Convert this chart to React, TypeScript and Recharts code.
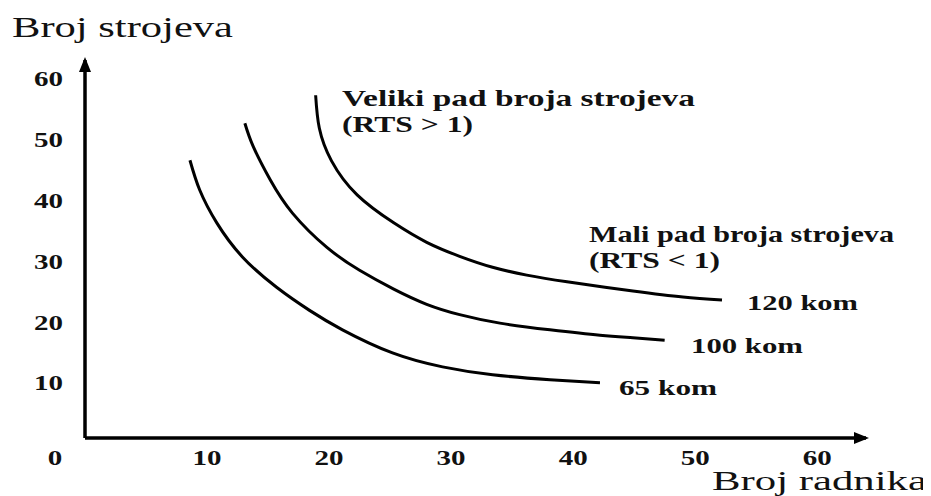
import React from 'react';
import { LineChart, Line, XAxis, YAxis } from 'recharts';

// Isoquant curves (x = Broj radnika, y = Broj strojeva)
const curve65 = [
  { x: 8.6, y: 46.7 }, { x: 9.4, y: 41.8 }, { x: 10.8, y: 36.4 }, { x: 12.9, y: 30.8 },
  { x: 15.7, y: 25.8 }, { x: 18.4, y: 22.0 }, { x: 21.1, y: 18.8 }, { x: 25.2, y: 15.0 },
  { x: 29.3, y: 12.7 }, { x: 33.4, y: 11.4 }, { x: 38.1, y: 10.6 }, { x: 42.2, y: 10.1 },
];
const curve100 = [
  { x: 13.1, y: 52.8 }, { x: 13.8, y: 48.9 }, { x: 15.2, y: 43.4 }, { x: 17.0, y: 38.0 },
  { x: 19.8, y: 32.4 }, { x: 22.5, y: 28.6 }, { x: 25.3, y: 25.5 }, { x: 28.0, y: 23.0 },
  { x: 30.7, y: 21.3 }, { x: 34.0, y: 19.9 }, { x: 38.1, y: 18.8 }, { x: 42.2, y: 17.9 },
  { x: 44.9, y: 17.5 }, { x: 47.5, y: 17.1 },
];
const curve120 = [
  { x: 18.9, y: 57.4 }, { x: 19.2, y: 52.0 }, { x: 20.2, y: 46.6 }, { x: 22.3, y: 41.0 },
  { x: 25.3, y: 36.4 }, { x: 28.0, y: 33.2 }, { x: 30.7, y: 30.9 }, { x: 33.4, y: 29.1 },
  { x: 36.2, y: 27.8 }, { x: 39.5, y: 26.7 }, { x: 44.9, y: 25.2 }, { x: 49.0, y: 24.2 },
  { x: 52.2, y: 23.7 },
];
const xTicks = [0, 10, 20, 30, 40, 50, 60];
const yTicks = [10, 20, 30, 40, 50, 60];
const yAxisTitle = 'Broj strojeva';
const xAxisTitle = 'Broj radnika';
const noteHigh = ['Veliki pad broja strojeva', '(RTS > 1)'];
const noteLow = ['Mali pad broja strojeva', '(RTS < 1)'];
const curveLabels = ['65 kom', '100 kom', '120 kom'];

const FONT = 'Liberation Serif, DejaVu Serif, serif';
const INK = '#111';

const XTick = (props: any) => {
  const { x, y, payload } = props;
  const s = String(payload.value);
  const dx = payload.value === 0 ? -30 : 0;
  return (
    <text x={x + dx} y={y + 27} textAnchor="middle" style={{ fontFamily: FONT }} fontSize={21}
      fontWeight="bold" fill={INK} textLength={14.5 * s.length} lengthAdjust="spacingAndGlyphs">{s}</text>
  );
};

const YTick = (props: any) => {
  const { x, y, payload } = props;
  const s = String(payload.value);
  return (
    <text x={x} y={y + 7} textAnchor="end" style={{ fontFamily: FONT }} fontSize={21}
      fontWeight="bold" fill={INK} textLength={14.5 * s.length} lengthAdjust="spacingAndGlyphs">{s}</text>
  );
};

const T = ({ x, y, w, size, bold, children }: any) => (
  <text x={x} y={y} style={{ fontFamily: FONT }} fontSize={size} fill={INK}
    fontWeight={bold ? 'bold' : 'normal'} textLength={w} lengthAdjust="spacingAndGlyphs">{children}</text>
);

export default function App() {
  return (
    <div style={{ position: 'relative', width: 915, height: 488 }}>
      <LineChart width={915} height={488} margin={{ top: 52, right: 57, bottom: 28, left: 17 }}>
        <defs>
          <marker id="axArrow" markerUnits="userSpaceOnUse" markerWidth={15} markerHeight={12}
            viewBox="0 0 15 12" refX={12} refY={6} orient="auto-start-reverse">
            <path d="M0,0 L15,6 L0,12 z" fill="#000" />
          </marker>
        </defs>
        <XAxis type="number" dataKey="x" domain={[0, 64]} ticks={xTicks} allowDataOverflow
          height={30} tickSize={0} tickMargin={0} tickLine={false} tick={<XTick />}
          axisLine={{ stroke: '#000', strokeWidth: 3.5, markerEnd: 'url(#axArrow)' }} />
        <YAxis type="number" dataKey="y" domain={[1, 63.2]} ticks={yTicks} allowDataOverflow
          width={60} tickSize={0} tickMargin={22} tickLine={false} tick={<YTick />}
          axisLine={{ stroke: '#000', strokeWidth: 3.5, markerStart: 'url(#axArrow)' }} />
        <Line data={curve65} dataKey="y" type="natural" stroke="#000" strokeWidth={3}
          dot={false} isAnimationActive={false} />
        <Line data={curve100} dataKey="y" type="natural" stroke="#000" strokeWidth={3}
          dot={false} isAnimationActive={false} />
        <Line data={curve120} dataKey="y" type="natural" stroke="#000" strokeWidth={3}
          dot={false} isAnimationActive={false} />
      </LineChart>
      <svg width={915} height={488} style={{ position: 'absolute', left: 0, top: 0, pointerEvents: 'none' }}>
        <T x={4} y={29} w={221} size={30}>{yAxisTitle}</T>
        <T x={704} y={482} w={215} size={27}>{xAxisTitle}</T>
        <T x={334} y={98} w={353} size={24} bold>{noteHigh[0]}</T>
        <T x={334} y={124} w={131} size={24} bold>{noteHigh[1]}</T>
        <T x={581} y={234} w={305} size={24} bold>{noteLow[0]}</T>
        <T x={581} y={260} w={131} size={24} bold>{noteLow[1]}</T>
        <T x={611} y={387} w={98} size={22} bold>{curveLabels[0]}</T>
        <T x={683} y={345} w={112} size={22} bold>{curveLabels[1]}</T>
        <T x={739} y={302} w={111} size={22} bold>{curveLabels[2]}</T>
      </svg>
    </div>
  );
}
